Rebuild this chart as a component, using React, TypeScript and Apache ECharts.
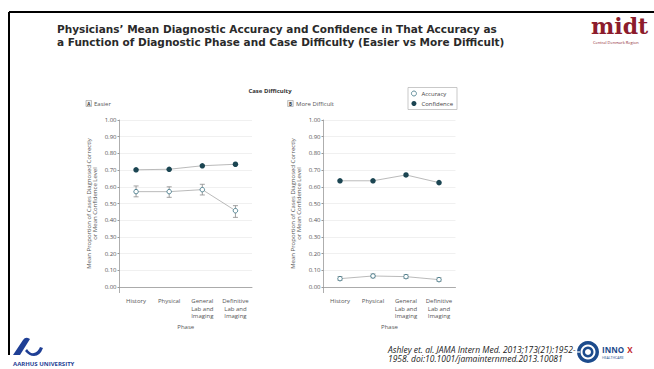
import React, { useEffect, useRef } from "react";
import * as echarts from "echarts";

const phases = ["History", "Physical", "General\nLab and\nImaging", "Definitive\nLab and\nImaging"];
const yTicks = ["0.00", "0.10", "0.20", "0.30", "0.40", "0.50", "0.60", "0.70", "0.80", "0.90", "1.00"];

// Panel A: Easier
const easierAccuracy = [0.571, 0.571, 0.583, 0.457];
const easierAccuracyLow = [0.54, 0.537, 0.551, 0.417];
const easierAccuracyHigh = [0.605, 0.6, 0.615, 0.487];
const easierConfidence = [0.702, 0.705, 0.726, 0.735];

// Panel B: More Difficult
const difficultAccuracy = [0.05, 0.066, 0.062, 0.044];
const difficultAccuracyLow = [0.04, 0.055, 0.051, 0.034];
const difficultAccuracyHigh = [0.062, 0.078, 0.073, 0.055];
const difficultConfidence = [0.636, 0.636, 0.671, 0.625];

const FONT = "'Open Sans', 'DejaVu Sans', sans-serif";
const ACC_COLOR = "#4f8190";
const CONF_COLOR = "#1b4552";

function errorSeries(xi: number, low: number[], high: number[]) {
  return {
    type: "custom",
    xAxisIndex: xi,
    yAxisIndex: xi,
    z: 1,
    silent: true,
    encode: { x: 0, y: [1, 2] },
    data: low.map((l, i) => [i, l, high[i]]),
    renderItem: (params: any, api: any) => {
      const top = api.coord([api.value(0), api.value(2)]);
      const bot = api.coord([api.value(0), api.value(1)]);
      const hw = 2.5;
      const st = { stroke: "#8a8a8a", lineWidth: 0.8 };
      return {
        type: "group",
        children: [
          { type: "line", shape: { x1: top[0], y1: top[1], x2: bot[0], y2: bot[1] }, style: st },
          { type: "line", shape: { x1: top[0] - hw, y1: top[1], x2: top[0] + hw, y2: top[1] }, style: st },
          { type: "line", shape: { x1: bot[0] - hw, y1: bot[1], x2: bot[0] + hw, y2: bot[1] }, style: st },
        ],
      };
    },
  };
}

function lineSeries(name: string, xi: number, data: number[], filled: boolean) {
  return {
    name,
    type: "line",
    xAxisIndex: xi,
    yAxisIndex: xi,
    z: 3,
    data,
    symbol: "circle",
    symbolSize: filled ? 5.5 : 4.5,
    lineStyle: { color: "#a8a8a8", width: 0.8 },
    itemStyle: filled
      ? { color: CONF_COLOR }
      : { color: "#fff", borderColor: ACC_COLOR, borderWidth: 1 },
  };
}

function xAxis(gi: number) {
  return {
    type: "category",
    gridIndex: gi,
    data: phases,
    offset: 6,
    boundaryGap: true,
    axisLine: { lineStyle: { color: "#999", width: 0.8 } },
    axisTick: { alignWithLabel: true, length: 2, lineStyle: { color: "#999" } },
    axisLabel: { fontSize: 6, lineHeight: 7.7, color: "#555", margin: 4, interval: 0, fontFamily: FONT },
    name: "Phase",
    nameLocation: "middle",
    nameGap: 31,
    nameTextStyle: { fontSize: 6, color: "#555", fontFamily: FONT },
  };
}

function yAxis(gi: number) {
  return {
    type: "value",
    gridIndex: gi,
    min: 0,
    max: 1,
    interval: 0.1,
    axisLine: { show: true, lineStyle: { color: "#999", width: 0.8 } },
    axisTick: { show: true, length: 2, lineStyle: { color: "#999" } },
    axisLabel: {
      fontSize: 6,
      color: "#555",
      margin: 3,
      fontFamily: FONT,
      formatter: (v: number) => yTicks[Math.round(v * 10)] ?? v.toFixed(2),
    },
    splitLine: { lineStyle: { color: "#ececec", width: 0.8 } },
    name: "Mean Proportion of Cases Diagnosed Correctly\nor Mean Confidence Level",
    nameLocation: "middle",
    nameRotate: 90,
    nameGap: 21,
    nameTextStyle: { fontSize: 6, lineHeight: 6.5, color: "#555", fontFamily: FONT },
  };
}

const AU_PATH =
  "M0 18 L10 3 Q12 0 15 1 L17 2 L7 18 Z M14 12 Q17 17 21 16 Q25 15 27 10 L30 11 Q27 19 21 19 Q16 19 12 14 Z";

export default function App() {
  const ref = useRef<HTMLDivElement>(null);
  useEffect(() => {
    if (!ref.current) return;
    try {
      echarts.graphic.registerShape("auLogo", (echarts.graphic as any).extendPath(AU_PATH, {}));
    } catch (e) {}
    const chart = echarts.init(ref.current, null, { renderer: "svg" });
    const titleStyle = {
      fontSize: 10.5,
      lineHeight: 12,
      fontWeight: "bold",
      fill: "#2a2a2a",
      verticalAlign: "middle",
      fontFamily: "'DejaVu Sans', sans-serif",
    };
    chart.setOption({
      animation: false,
      backgroundColor: "#fff",
      textStyle: { fontFamily: FONT },
      grid: [
        { left: 119.5, top: 120, width: 132.5, height: 167 },
        { left: 323.5, top: 120, width: 132, height: 167 },
      ],
      xAxis: [xAxis(0), xAxis(1)],
      yAxis: [yAxis(0), yAxis(1)],
      legend: {
        left: 408,
        top: 87.5,
        orient: "vertical",
        padding: [3, 4, 3, 3],
        itemGap: 4,
        itemWidth: 5,
        itemHeight: 5,
        borderColor: "#bbb",
        borderWidth: 0.8,
        textStyle: { fontSize: 6, color: "#444", fontFamily: FONT },
        data: [
          { name: "Accuracy", icon: "circle", itemStyle: { color: "#fff", borderColor: ACC_COLOR, borderWidth: 0.9 } },
          { name: "Confidence", icon: "circle", itemStyle: { color: CONF_COLOR } },
        ],
      },
      series: [
        errorSeries(0, easierAccuracyLow, easierAccuracyHigh),
        lineSeries("Accuracy", 0, easierAccuracy, false),
        lineSeries("Confidence", 0, easierConfidence, true),
        errorSeries(1, difficultAccuracyLow, difficultAccuracyHigh),
        lineSeries("Accuracy", 1, difficultAccuracy, false),
        lineSeries("Confidence", 1, difficultConfidence, true),
      ],
      graphic: [
        { type: "line", shape: { x1: 9, y1: 12, x2: 654, y2: 12 }, style: { stroke: "#000", lineWidth: 2 } },
        { type: "line", shape: { x1: 9, y1: 12, x2: 9, y2: 355 }, style: { stroke: "#000", lineWidth: 2 } },
        { type: "line", shape: { x1: 119.5, y1: 287, x2: 119.5, y2: 293 }, style: { stroke: "#999", lineWidth: 0.8 } },
        { type: "line", shape: { x1: 323.5, y1: 287, x2: 323.5, y2: 293 }, style: { stroke: "#999", lineWidth: 0.8 } },
        {
          type: "text",
          x: 57,
          y: 29,
          style: { ...titleStyle, text: "Physicians\u2019 Mean Diagnostic Accuracy and Confidence in That Accuracy as" },
        },
        {
          type: "text",
          x: 57,
          y: 42,
          style: { ...titleStyle, text: "a Function of Diagnostic Phase and Case Difficulty (Easier vs More Difficult)" },
        },
        {
          type: "text",
          left: 591,
          top: 15,
          style: { text: "midt", fontSize: 22, fontWeight: "bold", fill: "#8c1c2c", fontFamily: "'DejaVu Serif', serif" },
        },
        {
          type: "text",
          left: 593,
          top: 40,
          style: { text: "Central Denmark Region", fontSize: 4, fill: "#8c1c2c", fontFamily: FONT },
        },
        {
          type: "text",
          x: 270,
          y: 91,
          style: { text: "Case Difficulty", fontSize: 6, fontWeight: "bold", fill: "#333", align: "center", verticalAlign: "middle", fontFamily: FONT },
        },
        { type: "rect", shape: { x: 86, y: 100.5, width: 5.5, height: 6 }, style: { fill: "#f2f2f2", stroke: "#999", lineWidth: 0.6 } },
        { type: "text", x: 88.75, y: 103.6, style: { text: "A", fontSize: 4.5, fontWeight: "bold", fill: "#333", align: "center", verticalAlign: "middle", fontFamily: FONT } },
        { type: "text", x: 94, y: 103.6, style: { text: "Easier", fontSize: 6, fill: "#555", verticalAlign: "middle", fontFamily: FONT } },
        { type: "rect", shape: { x: 287.7, y: 100.5, width: 5.5, height: 6 }, style: { fill: "#f2f2f2", stroke: "#999", lineWidth: 0.6 } },
        { type: "text", x: 290.45, y: 103.6, style: { text: "B", fontSize: 4.5, fontWeight: "bold", fill: "#333", align: "center", verticalAlign: "middle", fontFamily: FONT } },
        { type: "text", x: 296, y: 103.6, style: { text: "More Difficult", fontSize: 6, fill: "#555", verticalAlign: "middle", fontFamily: FONT } },
        {
          type: "text",
          x: 388,
          y: 349,
          style: {
            text: "Ashley et. al. JAMA Intern Med. 2013;173(21):1952-",
            fontSize: 8.5,
            lineHeight: 9,
            fontStyle: "italic",
            fill: "#222",
            verticalAlign: "middle",
            fontFamily: FONT,
          },
        },
        {
          type: "text",
          x: 388,
          y: 358.5,
          style: {
            text: "1958. doi:10.1001/jamainternmed.2013.10081",
            fontSize: 8.5,
            lineHeight: 9,
            fontStyle: "italic",
            fill: "#222",
            verticalAlign: "middle",
            fontFamily: FONT,
          },
        },
        { type: "auLogo", x: 13, y: 337, scaleX: 1, scaleY: 1, style: { fill: "#1f3f95" } },
        {
          type: "text",
          left: 13,
          top: 361,
          style: { text: "AARHUS UNIVERSITY", fontSize: 6, fontWeight: "bold", fill: "#1f3f95", fontFamily: FONT },
        },
        { type: "ring", shape: { cx: 588, cy: 352, r: 11, r0: 7.5 }, style: { fill: "#1c4b8c" } },
        { type: "ring", shape: { cx: 588, cy: 352, r: 5.5, r0: 3 }, style: { fill: "#1c4b8c" } },
        { type: "line", shape: { x1: 576, y1: 352, x2: 580, y2: 352 }, style: { stroke: "#fff", lineWidth: 1.2 } },
        { type: "line", shape: { x1: 594, y1: 343, x2: 596, y2: 340 }, style: { stroke: "#fff", lineWidth: 1.2 } },
        {
          type: "text",
          x: 602,
          y: 349,
          style: {
            text: "{a|INNO} {b|X}",
            verticalAlign: "middle",
            rich: {
              a: { fontSize: 8, lineHeight: 9, fontWeight: "bold", fill: "#1c4b8c", fontFamily: FONT },
              b: { fontSize: 8, lineHeight: 9, fontWeight: "bold", fill: "#c0282d", fontFamily: FONT },
            },
          },
        },
        {
          type: "text",
          x: 602,
          y: 357.5,
          style: { text: "HEALTHCARE", fontSize: 3.5, fill: "#1c4b8c", verticalAlign: "middle", fontFamily: FONT },
        },
      ],
    });
    return () => chart.dispose();
  }, []);
  return (
    <div
      ref={ref}
      style={{ position: "fixed", left: 0, top: 0, width: 654, height: 369, background: "#fff" }}
    />
  );
}
